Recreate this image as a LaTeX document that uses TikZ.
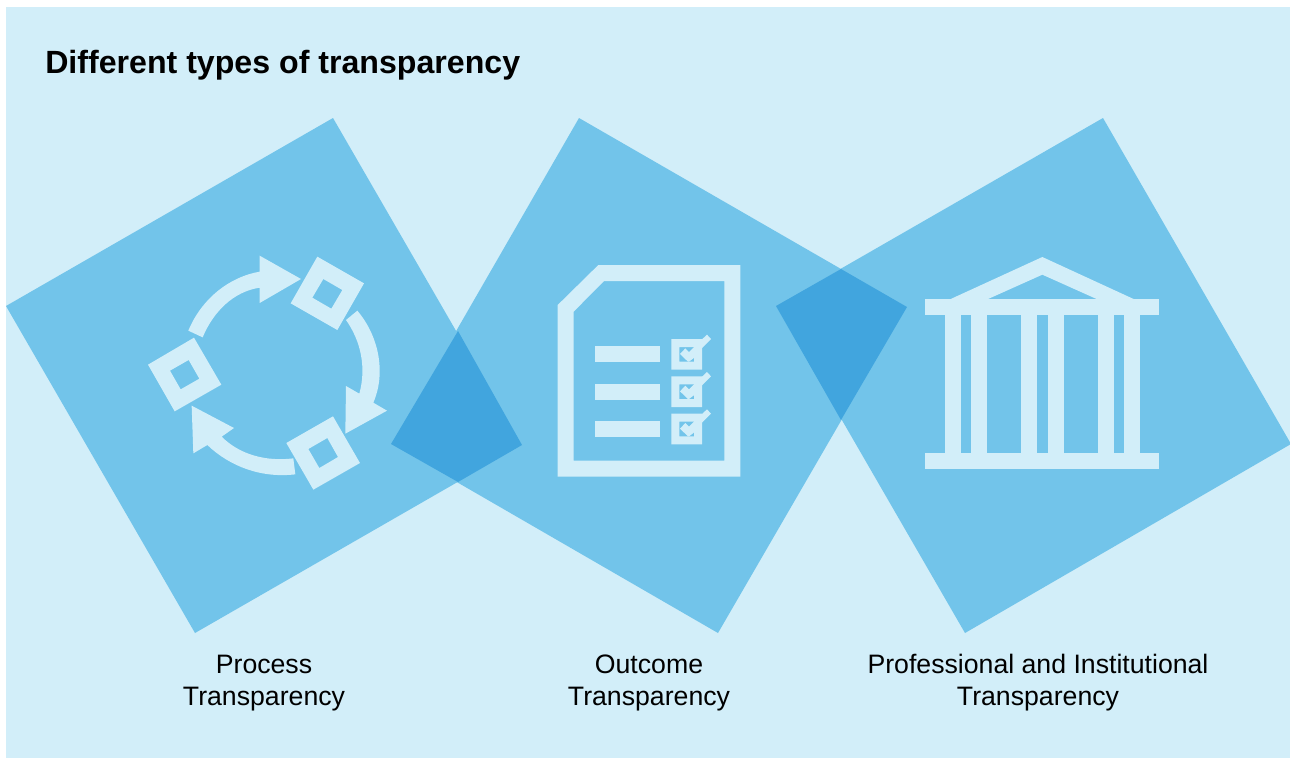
\documentclass[tikz,border=0pt]{standalone}
\usepackage{fontspec}
\setmainfont{Liberation Sans}
\definecolor{bgblue}{HTML}{D2EEF9}
\definecolor{sqblue}{HTML}{72C4EA}
\definecolor{ovblue}{HTML}{41A5DE}
\tikzset{
  sq/.style={fill=sqblue,draw=none},
  ov/.style={fill=ovblue,draw=none},
  ico/.style={fill=bgblue,draw=none,even odd rule},
  lab/.style={font=\fontsize{20pt}{24pt}\selectfont,align=center,anchor=base,inner sep=0pt,text=black},
}
\begin{document}
\begin{tikzpicture}[x=0.75pt,y=-0.75pt]
\useasboundingbox (0,0) rectangle (1290,758);
\fill[bgblue] (6,7) rectangle (1290,758);
% squares
\path[sq] (333,118) -- (6,306) -- (195,633) -- (522,445) -- cycle;
\path[sq] (579,118) -- (907,307) -- (718,633) -- (391,444) -- cycle;
\path[sq] (1103,118) -- (776,306) -- (965,633) -- (1291,444) -- cycle;
\path[ov] (458,331) -- (522,445) -- (458,482) -- (391,444) -- cycle;
\path[ov] (841,269) -- (907,307) -- (841,420) -- (776,306) -- cycle;
% process icon
\begin{scope}[shift={(130,240)},x=0.25pt,y=-0.25pt]
\path[ico] (562,50) -- (702,130) -- (622,270) -- (482,190) -- cycle (580,117) -- (637,150) -- (604,206) -- (547,173) -- cycle;
\path[ico] (192,293) -- (274,434) -- (134,514) -- (54,374) -- cycle (176,360) -- (208,416) -- (152,448) -- (120,392) -- cycle;
\path[ico] (609,529) -- (690,669) -- (550,749) -- (469,609) -- cycle (592,594) -- (624,651) -- (568,684) -- (535,627) -- cycle;
\path[ico] (175,272) .. controls (215,175) and (300,110) .. (389,95) -- (389,47) -- (513,117) -- (389,189) -- (389,143) .. controls (310,155) and (250,215) .. (218,292) -- cycle;
\path[ico] (682,212) .. controls (748,290) and (768,400) .. (730,488) -- (771,512) -- (646,581) -- (648,438) -- (688,461) .. controls (709,385) and (694,305) .. (648,240) -- cycle;
\path[ico] (496,703) .. controls (395,715) and (300,680) .. (232,615) -- (190,640) -- (185,497) -- (312,564) -- (275,590) .. controls (330,645) and (410,665) .. (490,655) -- cycle;
\end{scope}
% document icon
\begin{scope}[shift={(540,250)},x=0.25pt,y=-0.25pt]
\path[ico] (175,45) -- (601,45) -- (601,680) -- (53,680) -- (53,165) -- cycle (192,93) -- (553,93) -- (553,632) -- (101,632) -- (101,185) -- cycle;
\foreach \yy in {0,112,224} {
  \begin{scope}[yshift=-0.25*\yy pt]
  \path[ico] (165,289) rectangle (359,337);
  \path[ico] (394,267) rectangle (486,359) (418,291) rectangle (462,335);
  \path[ico] (484,270) -- (501,254) -- (513,267) -- (486,294) -- cycle;
  \path[ico] (420,312) -- (436,295) -- (447,306) -- (462,291) -- (480,291) -- (480,310) -- (447,335) -- (444,335) -- cycle;
  \end{scope}
}
\end{scope}
% institution icon
\begin{scope}[shift={(910,245)},x=0.25pt,y=-0.25pt]
\path[ico] (46,163) rectangle (748,211);
\path[ico] (46,624) rectangle (748,672);
\foreach \xa in {104,183,333,413,563,642} {
  \path[ico] (\xa,205) rectangle ({\xa+48},630);
}
\path[ico] (120,163) -- (397,36) -- (673,163) -- (562,163) -- (397,89) -- (232,163) -- cycle;
\end{scope}
% texts
\node[anchor=base west,inner sep=0pt,font=\fontsize{24.1pt}{28pt}\selectfont\bfseries,text=black] (title) at (45,73) {Different types of transparency};
\node[lab,anchor=base] (p1) at (264,673) {Process};
\node[lab,anchor=base] (p2) at (264,705) {Transparency};
\node[lab,anchor=base] (o1) at (649,673) {Outcome};
\node[lab,anchor=base] (o2) at (649,705) {Transparency};
\node[lab,anchor=base] (i1) at (1038,673) {Professional and Institutional};
\node[lab,anchor=base] (i2) at (1038,705) {Transparency};
\end{tikzpicture}
\end{document}
